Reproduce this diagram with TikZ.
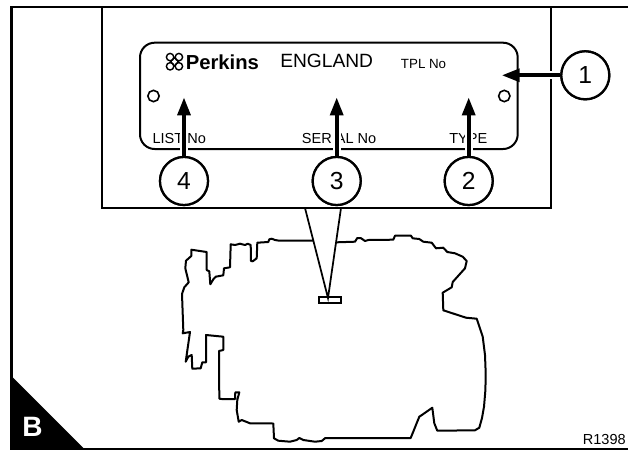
\documentclass[tikz,border=0pt]{standalone}
\usepackage{fontspec}
\setmainfont{Liberation Sans}
\usetikzlibrary{arrows.meta}
\newcommand{\fs}[1]{\fontsize{#1}{#1}\selectfont}
\tikzset{
  frameline/.style={line width=1.9pt,draw=black},
  boxline/.style={line width=1.5pt,draw=black},
  platebox/.style={line width=1.5pt,draw=black},
  engine/.style={line width=1.5pt,draw=black,line join=round,line cap=round},
  callout/.style={circle,draw=black,line width=1.7pt,fill=white,minimum size=36pt,inner sep=0pt,font=\fs{18.5}},
  halo/.style={draw=white,line width=6pt,shorten >=6pt},
  pointer/.style={draw=black,line width=3pt,-{Triangle[length=13.5pt,width=9.5pt]}},
  label/.style={anchor=base west,inner sep=0pt,text=black},
  hole/.style={circle,draw=black,line width=1.2pt,minimum size=8.5pt,inner sep=0pt},
  logoloop/.style={draw=black,line width=1.05pt}
}
\begin{document}
\begin{tikzpicture}[x=0.75pt,y=-0.75pt]
\useasboundingbox (0,0) rectangle (628,450);
% outer frame
\draw[frameline] (628,7) -- (11.5,7) -- (11.5,449) -- (628,449);
\fill[black] (11.5,376) -- (85,449.5) -- (11.5,449.5) -- cycle;
\node[anchor=base west,inner sep=0pt,text=white,font=\fs{21}\bfseries] (letterB) at (22,436.5) {B};
\node[anchor=base east,inner sep=0pt,font=\fs{10.9}] (ref) at (626,444) {R1398};
% detail box
\draw[boxline] (102,7) -- (102,208) -- (551,208) -- (551,7);
% plate
\draw[platebox,rounded corners=11pt] (140,42.7) rectangle (517.7,149);
\node[hole] (holeL) at (153.5,96) {};
\node[hole] (holeR) at (504.3,96) {};
% logo
\foreach \dx/\dy in {-4.4/-4.6,4.4/-4.6,-4.4/4.6,4.4/4.6}
  \draw[logoloop] (174.5+\dx,61.7+\dy) circle (3.7);
\draw[logoloop] (170.6,61.7) -- (174.5,57.6) -- (178.4,61.7) -- (174.5,65.8) -- cycle;
% texts
\node[label,font=\fs{15.2}\bfseries] (perkins) at (185.5,69) {Perkins};
\node[label,font=\fs{14.4}] (england) at (280,67.5) {ENGLAND};
\node[label,font=\fs{10}] (tpl) at (400.7,68.5) {TPL No};
\node[label,font=\fs{10.9}] (listno) at (152.3,143.5) {LIST No};
\node[label,font=\fs{10.9}] (serial) at (301.7,143.5) {SERIAL No};
\node[label,font=\fs{10.9}] (typet) at (449,143.5) {TYPE};
% callouts
\node[callout] (c1) at (585.3,75.3) {1};
\node[callout] (c2) at (468.7,181) {2};
\node[callout] (c3) at (336.7,181) {3};
\node[callout] (c4) at (184,181) {4};
\coordinate (t1) at (501.7,75.3);
\coordinate (t2) at (468.7,97.3);
\coordinate (t3) at (336.7,97.3);
\coordinate (t4) at (184,97.3);
\foreach \n in {1,2,3,4}{
  \draw[halo] (c\n) -- (t\n);
  \draw[pointer] (c\n) -- (t\n);
  \node[callout] at (c\n) {\n};
}
% leader to small plate
\coordinate (lead1) at (305,208);
\coordinate (lead2) at (341,208);
\coordinate (leadT) at (328,298);
\draw[line width=1.3pt] (lead1) -- (leadT) -- (lead2);
\draw[line width=1.3pt] (319.3,296.7) rectangle (341.3,302.7);
% engine outline
\draw[engine] (312.7,240.7) -- (279.3,240.7) -- (275,240) -- (271.7,238.7) -- (269.3,239.3) -- (268.3,242) -- (257.3,242.7) -- (256.7,258.3) -- (252.7,261.3) -- (251,261) -- (250.7,245) -- (247.7,243.7) -- (245,245) -- (240,243.7) -- (235,245) -- (230.7,244.3) -- (230,267.3) -- (224,268.3) -- (223.3,275.3) -- (215.7,276.7) -- (213.3,279.3) -- (210.3,284.3) -- (209.3,271.3) -- (206.7,270) -- (206.7,252) -- (191.3,249.7) -- (191.3,256) -- (186,260.7) -- (185.3,268.3) -- (188.7,282.3) -- (184.3,287.3) -- (182,294) -- (183.3,330) -- (182.7,333.3) -- (190,332) -- (185.7,361.7) -- (188.3,356.7) -- (191.7,355) -- (192.3,368.7) -- (200.7,368.3) -- (202.3,362.3) -- (206,362.3) -- (206,335) -- (223.3,336.7) -- (223.3,350) -- (219,351) -- (219.3,398.7) -- (221.7,399) -- (235,399) -- (235.3,392.3) -- (239.3,392.3) -- (237.3,400) -- (236.7,410) -- (238.7,421.7) -- (241.7,420) -- (250,423.3) -- (273.3,423.5) -- (274,438.3) -- (278.3,440.7) -- (290,441.7) -- (296.7,440) -- (299.3,438) -- (303.3,440) -- (315,441.7) -- (321.7,441) -- (325.3,438) -- (410.7,438) -- (419.3,416.7) -- (423.3,414) -- (432.3,407.7) -- (434.3,423.3) -- (437.3,430.7) -- (475,430.3) -- (479.3,427.7) -- (482,418) -- (484,406.7) -- (485.4,390) -- (485.7,373.3) -- (485,355) -- (482.7,336.7) -- (476.7,318.7) -- (466,317.7) -- (443.3,310.3) -- (442.7,292.7) -- (451.7,287.3) -- (452.7,282) -- (465,268.3) -- (466.7,261) -- (462.7,256.7) -- (455,253.3) -- (447.3,252) -- (443.3,247.7) -- (436,248.3) -- (431.7,242.7) -- (423.3,241.7) -- (419.3,239) -- (412.7,238.3) -- (411,235.7) -- (395,235.7) -- (393.3,239.7) -- (368.3,240) -- (365,241) -- (360.7,238) -- (357.3,238) -- (355,241.7) -- (336.7,242.3);
\end{tikzpicture}
\end{document}
